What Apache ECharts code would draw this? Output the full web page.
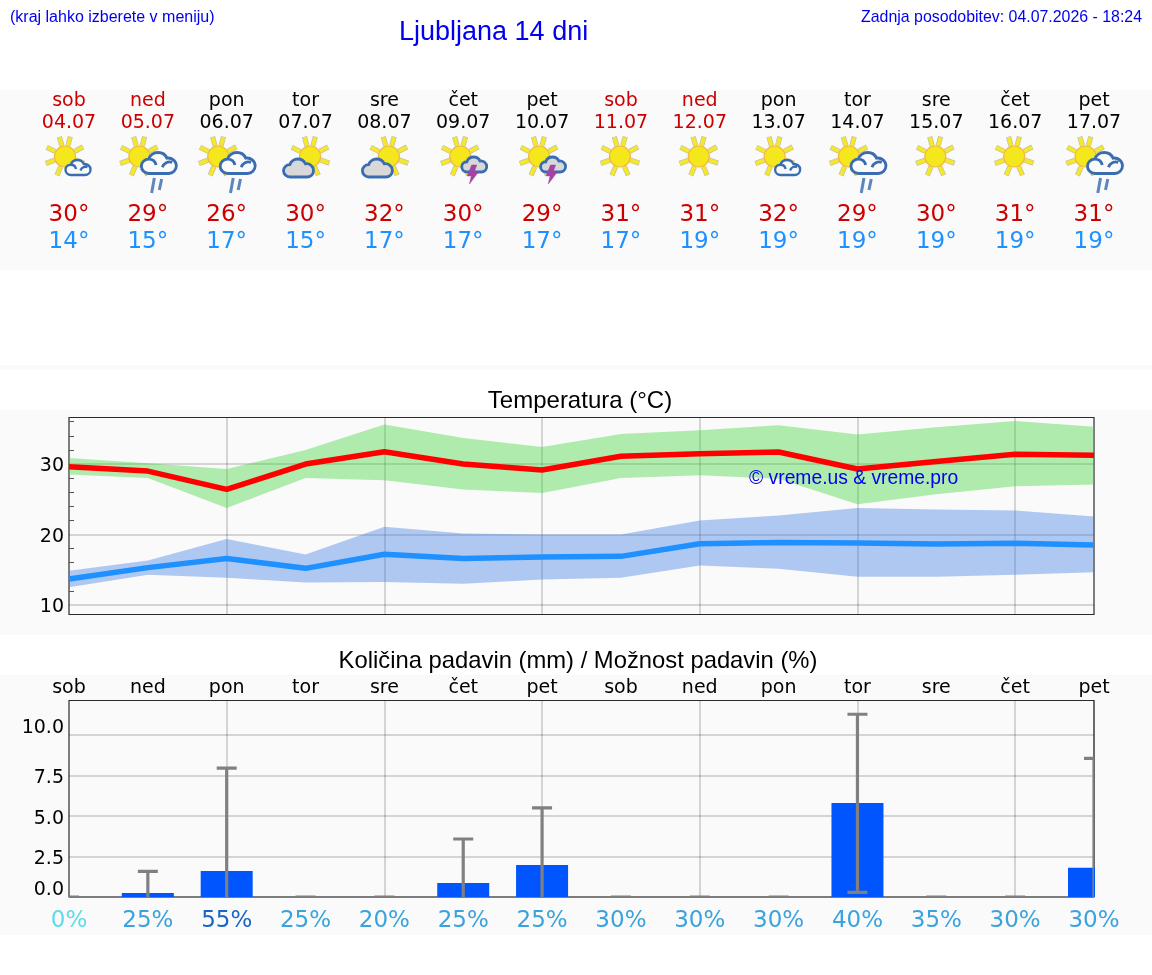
<!DOCTYPE html>
<html>
<head>
<meta charset="utf-8">
<title>Ljubljana 14 dni</title>
<style>html,body{margin:0;padding:0;background:#fff}#chart{width:1152px;height:975px}</style>
<script src="https://cdn.jsdelivr.net/npm/echarts@6/dist/echarts.min.js"></script>
</head>
<body>
<div id="chart"></div>
<script>
// 14-day forecast for Ljubljana
const dayNames = ['sob','ned','pon','tor','sre','čet','pet','sob','ned','pon','tor','sre','čet','pet'];
const dates = ['04.07','05.07','06.07','07.07','08.07','09.07','10.07','11.07','12.07','13.07','14.07','15.07','16.07','17.07'];
const iconKinds = ['sunCloud','sunRain','sunRain','cloudSun','cloudSun','sunStorm','sunStorm','sun','sun','sunCloud','sunRain','sun','sun','sunRain'];
const maxLabels = [30,29,26,30,32,30,29,31,31,32,29,30,31,31];
const minLabels = [14,15,17,15,17,17,17,17,19,19,19,19,19,19];

const maxMean = [29.6,29.0,26.4,30.0,31.75,30.0,29.15,31.1,31.45,31.7,29.3,30.35,31.4,31.25];
const maxLow  = [28.5,28.0,23.75,28.0,27.7,26.4,25.9,28.0,28.4,27.9,24.3,25.7,26.85,27.1];
const maxHigh = [30.85,30.1,29.3,32.0,35.6,33.7,32.4,34.25,34.8,35.5,34.2,35.2,36.1,35.3];
const minMean = [13.7,15.3,16.6,15.2,17.2,16.6,16.8,16.9,18.7,18.85,18.8,18.65,18.75,18.5];
const minLow  = [12.5,14.3,13.85,13.2,13.25,13.0,13.6,13.85,15.6,15.15,14.0,14.0,14.3,14.65];
const minHigh = [14.85,16.3,19.35,17.15,21.1,20.15,20.0,20.0,22.0,22.7,23.75,23.55,23.4,22.55];

const rainAmount = [0,0.25,1.6,0,0,0.87,1.98,0,0,0,5.8,0,0,1.8];
const rainUpper  = [0,1.58,7.95,0,0,3.58,5.5,0,0,0,11.28,0,0,8.56];
const rainLower  = [0,0,0,0,0,0,0,0,0,0,0.29,0,0,0];
const rainChance = [0,25,55,25,20,25,25,30,30,30,40,35,30,30];

const tempMajorTicks = [10,20,30];
const tempMinorTicks = [12,14,16,18,22,24,26,28,32,34,36];
const rainTicks = [0,2.5,5,7.5,10];

const LABEL_FONT = '"DejaVu Sans", sans-serif';
const TITLE_FONT = '"Liberation Sans", Arial, sans-serif';
const GRID_LINE = { show: true, lineStyle: { color: 'rgba(0,0,0,0.15)', width: 2 } };
const HOT = '#cc0000', COLD = '#1e90ff', BLACK = '#000';

// Fixed outlines for the weather symbols
const CLOUD_PATH = 'M22 60C9 60 0 50 0 39C0 28 9 19 21 19C24 8 35 0 48 0C60 0 69 7 73 16C87 14 100 24 100 38C100 51 90 60 78 60Z';
const CLOUD_CURL = CLOUD_PATH + 'M60 42C64 30 76 24 88 28M21 19C32 19 40 26 42 36';
const BOLT_PATH = 'M12 0L26 0L19 20L30 20L6 52L11 30L0 30Z';

function sunParts(cx, cy) {
  const parts = [];
  for (let k = 0; k < 8; k++) {
    const a = (15 + k * 47) * Math.PI / 180;
    const s = Math.sin(a), c = Math.cos(a);
    parts.push({
      type: 'line',
      shape: { x1: cx + s * 11, y1: cy - c * 11, x2: cx + s * 20.5, y2: cy - c * 20.5 },
      style: { stroke: '#c4c0a8', lineWidth: 5.2, lineCap: 'butt' }
    }, {
      type: 'line',
      shape: { x1: cx + s * 11, y1: cy - c * 11, x2: cx + s * 20, y2: cy - c * 20 },
      style: { stroke: '#f4e82a', lineWidth: 3.8, lineCap: 'butt' }
    });
  }
  parts.push({
    type: 'circle',
    shape: { cx, cy, r: 10.5 },
    style: { fill: '#f4e81c', stroke: '#f2b640', lineWidth: 1.2 }
  });
  return parts;
}

function cloudPart(x, y, width, height, fill, lineWidth) {
  return {
    type: 'path',
    shape: { pathData: fill === '#fafafa' ? CLOUD_CURL : CLOUD_PATH, x, y, width, height },
    style: { fill, stroke: '#3a6cb2', lineWidth }
  };
}

function rainParts(x) {
  const stroke = { stroke: '#5c86c0', lineWidth: 3 };
  return [
    { type: 'line', shape: { x1: x + 3.8, y1: 193, x2: x + 6.5, y2: 178 }, style: stroke },
    { type: 'line', shape: { x1: x + 11.5, y1: 190, x2: x + 13.8, y2: 179 }, style: stroke }
  ];
}

function weatherIcon(kind, x) {
  switch (kind) {
    case 'sunCloud':
      return sunParts(x - 4, 156.5).concat([cloudPart(x - 4.5, 160, 27, 15, '#fafafa', 2.4)]);
    case 'sunRain':
      return sunParts(x - 8.5, 156.5).concat([cloudPart(x - 6.5, 152, 35, 22, '#fafafa', 2.8)], rainParts(x));
    case 'cloudSun':
      return sunParts(x + 4.5, 156.5).concat([cloudPart(x - 23, 159, 32, 18, '#d8d8d8', 2.8)]);
    case 'sunStorm':
      return sunParts(x - 3, 156.5).concat([
        cloudPart(x - 1.5, 157, 25, 15, '#d8d8d8', 2.8),
        {
          type: 'path',
          shape: { pathData: BOLT_PATH, x: x + 4, y: 165, width: 11, height: 19 },
          style: { fill: '#a144a6', stroke: '#a144a6', lineWidth: 0.5 }
        }
      ]);
    default:
      return sunParts(x - 1, 156.5);
  }
}

// Header cell: weekday, date, weather symbol, daily extremes
function renderDay(params, api) {
  const i = api.value(0);
  const x = api.coord([i, 0])[0];
  const weekend = dayNames[i] === 'sob' || dayNames[i] === 'ned';
  const headColor = weekend ? HOT : BLACK;
  const text = (str, y, size, fill) => ({
    type: 'text',
    style: { text: str, x, y, fill, font: size + 'px ' + LABEL_FONT, align: 'center', verticalAlign: 'middle' }
  });
  return {
    type: 'group',
    children: weatherIcon(iconKinds[i], x).concat([
      text(dayNames[i], 101, 19, headColor),
      text(dates[i], 123, 19, headColor),
      text(maxLabels[i] + '°', 215, 23, HOT),
      text(minLabels[i] + '°', 242, 23, COLD)
    ])
  };
}

// Whisker from the low to the high rainfall estimate
function renderWhisker(params, api) {
  const i = api.value(0);
  const hi = api.value(1), lo = api.value(2);
  const top = api.coord([i, hi]);
  const bottom = api.coord([i, lo]);
  const style = { stroke: '#808080', lineWidth: 3.2 };
  const cap = p => ({ type: 'line', shape: { x1: p[0] - 10, y1: p[1], x2: p[0] + 10, y2: p[1] }, style });
  const children = [
    { type: 'line', shape: { x1: top[0], y1: top[1], x2: bottom[0], y2: bottom[1] }, style },
    cap(top)
  ];
  if (lo > 0) children.push(cap(bottom));
  return { type: 'group', children };
}

function chanceColor(v) {
  if (v >= 50) return '#1a66c4';
  if (v === 0) return '#5cdcea';
  return '#3aa3de';
}

const hiddenDayAxis = (gridIndex) => ({
  type: 'category', gridIndex, data: dayNames, boundaryGap: false,
  axisLine: { show: false }, axisTick: { show: false }, axisLabel: { show: false },
  splitLine: { show: false }
});

function bandSeries(name, low, high, color) {
  const shared = { type: 'line', xAxisIndex: 1, yAxisIndex: 1, stack: name, symbol: 'none', silent: true, lineStyle: { width: 0 }, z: 2 };
  return [
    Object.assign({}, shared, { name: name + ' base', data: low }),
    Object.assign({}, shared, {
      name,
      data: high.map((v, k) => +(v - low[k]).toFixed(2)),
      areaStyle: { color, opacity: 0.4 }
    })
  ];
}

const chart = echarts.init(document.getElementById('chart'), null, { renderer: 'canvas', width: 1152, height: 975 });

const bands = [[90, 180], [365, 5], [410, 225], [675, 260]];

chart.setOption({
  animation: false,
  backgroundColor: '#fff',
  tooltip: { show: false },
  title: [
    { text: 'Ljubljana 14 dni', left: 394, top: 14, textStyle: { color: '#0000ee', fontFamily: TITLE_FONT, fontSize: 27, fontWeight: 'normal' } },
    { text: '(kraj lahko izberete v meniju)', left: 5, top: 5, textStyle: { color: '#0000ee', fontFamily: TITLE_FONT, fontSize: 16, fontWeight: 'normal' } },
    { text: 'Zadnja posodobitev: 04.07.2026 - 18:24', right: 5, top: 5, textStyle: { color: '#0000ee', fontFamily: TITLE_FONT, fontSize: 15.9, fontWeight: 'normal' } },
    { text: 'Temperatura (°C)', left: 575, textAlign: 'center', top: 384, textStyle: { color: '#000', fontFamily: TITLE_FONT, fontSize: 24, fontWeight: 'normal' } },
    { text: 'Količina padavin (mm) / Možnost padavin (%)', left: 573, textAlign: 'center', top: 644, textStyle: { color: '#000', fontFamily: TITLE_FONT, fontSize: 23.8, fontWeight: 'normal' } }
  ],
  graphic: bands.map(b => ({
    type: 'rect', z: -10, silent: true,
    shape: { x: 0, y: b[0], width: 1152, height: b[1] },
    style: { fill: '#fafafa' }
  })).concat([
    // The last rain bar stops at the frame; the margin hides its overhang
    {
      type: 'rect', z: 40, silent: true,
      shape: { x: 1095, y: 700, width: 57, height: 198 },
      style: { fill: '#fafafa' }
    },
    {
      type: 'text', z: 50, silent: true, left: 749, top: 469,
      style: { text: '© vreme.us & vreme.pro', fill: '#0000ee', font: '19.3px ' + TITLE_FONT }
    }
  ]),
  grid: [
    { left: 69, width: 1025, top: 90, height: 180, show: false },
    { left: 69, width: 1025, top: 417.5, height: 197, show: true, backgroundColor: 'transparent', borderColor: '#2b2b2b', borderWidth: 1.2 },
    { left: 69, width: 1025, top: 700.5, height: 196.5, show: true, backgroundColor: 'transparent', borderColor: '#2b2b2b', borderWidth: 1.2 }
  ],
  xAxis: [
    hiddenDayAxis(0),
    Object.assign(hiddenDayAxis(1), { splitLine: Object.assign({}, GRID_LINE, { interval: 1, showMinLine: false }) }),
    Object.assign(hiddenDayAxis(2), {
      position: 'top',
      axisLabel: { show: true, interval: 0, margin: 3, color: '#000', fontFamily: LABEL_FONT, fontSize: 19 },
      splitLine: Object.assign({}, GRID_LINE, { interval: 1, showMinLine: false })
    }),
    {
      type: 'category', gridIndex: 2, data: rainChance, boundaryGap: false, position: 'bottom',
      axisLine: { show: false }, axisTick: { show: false },
      axisLabel: {
        show: true, interval: 0, margin: 13, fontFamily: LABEL_FONT, fontSize: 23,
        formatter: v => v + '%',
        color: v => chanceColor(+v)
      }
    }
  ],
  yAxis: [
    { type: 'value', gridIndex: 0, min: 0, max: 180, show: false },
    // Temperature axis: gridlines and labels every 10°
    {
      type: 'value', gridIndex: 1, min: 8.65, max: 36.6,
      axisLine: { show: false }, axisTick: { show: false, customValues: tempMajorTicks },
      axisLabel: {
        show: true, customValues: tempMajorTicks, margin: 5, color: '#000', fontFamily: LABEL_FONT, fontSize: 19,
        formatter: v => '{t|' + v + '}',
        rich: { t: { color: '#000', fontFamily: LABEL_FONT, fontSize: 19, padding: [5, 0, 0, 0] } }
      },
      splitLine: GRID_LINE
    },
    // Short inward ticks every 2°
    {
      type: 'value', gridIndex: 1, min: 8.65, max: 36.6, position: 'left',
      axisLine: { show: false },
      axisTick: { show: true, inside: true, length: 5, customValues: tempMinorTicks, lineStyle: { color: '#555', width: 1 } },
      axisLabel: { show: false }, splitLine: { show: false }
    },
    {
      type: 'value', gridIndex: 2, min: 0, max: 12.13,
      axisLine: { show: false }, axisTick: { show: false, customValues: rainTicks },
      axisLabel: {
        show: true, customValues: rainTicks, margin: 5, padding: [6, 0, 0, 0], color: '#000', fontFamily: LABEL_FONT, fontSize: 19,
        formatter: v => (v === 0 || v === 10) ? '{raised|' + v.toFixed(1) + '}' : v.toFixed(1),
        rich: { raised: { color: '#000', fontFamily: LABEL_FONT, fontSize: 19, padding: [0, 0, 19, 0] } }
      },
      splitLine: GRID_LINE
    }
  ],
  series: [
    {
      type: 'custom', name: 'Dnevi', xAxisIndex: 0, yAxisIndex: 0, silent: true,
      coordinateSystem: 'cartesian2d', clip: false, renderItem: renderDay,
      encode: { x: 0, y: 1 },
      data: dayNames.map((d, i) => [i, 0])
    },
    ...bandSeries('Najvišja razpon', maxLow, maxHigh, 'rgb(60,212,58)'),
    ...bandSeries('Najnižja razpon', minLow, minHigh, 'rgb(62,125,230)'),
    {
      type: 'line', name: 'Najvišja', xAxisIndex: 1, yAxisIndex: 1, data: maxMean, symbol: 'none', silent: true, z: 4,
      lineStyle: { color: '#ff0000', width: 5.5 }
    },
    {
      type: 'line', name: 'Najnižja', xAxisIndex: 1, yAxisIndex: 1, data: minMean, symbol: 'none', silent: true, z: 4,
      lineStyle: { color: COLD, width: 5.5 }
    },
    {
      type: 'bar', name: 'Količina padavin', xAxisIndex: 2, yAxisIndex: 3, data: rainAmount, barWidth: 52, silent: true, z: 3,
      itemStyle: { color: '#0055ff' }
    },
    {
      type: 'custom', name: 'Razpon padavin', xAxisIndex: 2, yAxisIndex: 3, silent: true, clip: true, z: 4,
      coordinateSystem: 'cartesian2d', renderItem: renderWhisker,
      encode: { x: 0, y: [1, 2] },
      data: rainUpper.map((v, i) => [i, v, rainLower[i]])
    }
  ]
});
</script>
</body>
</html>
